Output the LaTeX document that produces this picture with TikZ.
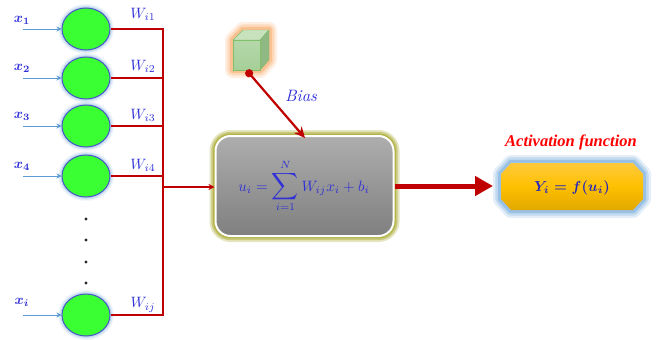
\documentclass[tikz,border=0pt]{standalone}
\usepackage{amsmath,amssymb}
\usepackage{graphicx}
\usepackage{fontspec}
\usepackage{xcolor}
\usetikzlibrary{arrows.meta,shapes.geometric}
\newfontfamily\capfont{Liberation Serif}
\definecolor{wire}{HTML}{C00000}
\definecolor{label}{HTML}{3030D8}
\definecolor{inwire}{HTML}{5B9BD5}
\definecolor{cell}{HTML}{39FF33}
\definecolor{cellrim}{HTML}{4A55C8}
\definecolor{bluehalo}{HTML}{5B9BD5}
\definecolor{olivehalo}{HTML}{A8A830}
\definecolor{orangehalo}{HTML}{F79646}
\definecolor{cubeface}{HTML}{B5D8AA}
\definecolor{cubelow}{HTML}{A6CF98}
\definecolor{cubetop}{HTML}{C8E2BE}
\definecolor{cubeside}{HTML}{8FB883}
\definecolor{cubeedge}{HTML}{7FBF6A}
\definecolor{goldtop}{HTML}{FFC93C}
\definecolor{goldmid}{HTML}{FFC000}
\definecolor{goldlow}{HTML}{E0A800}
\tikzset{
  glow/.style n args={3}{
    preaction={draw=#1,draw opacity=#3*.13,line width=#2*2pt,line join=round},
    preaction={draw=#1,draw opacity=#3*.2,line width=#2*1.4pt,line join=round},
    preaction={draw=#1,draw opacity=#3*.3,line width=#2*0.8pt,line join=round}},
  neuron/.style={ellipse,minimum width=48pt,minimum height=42pt,inner sep=0pt,draw=cellrim,line width=1pt,fill=cell,glow={bluehalo}{4}{.7}},
  mathlabel/.style={text=label,scale=1.5},
  inlabel/.style={text=label,scale=1.4,font=\boldmath},
  inarrow/.style={-{Stealth[length=5pt,width=5pt]},inwire,line width=1pt},
  buswire/.style={wire,line width=2pt}
}
\begin{document}
\begin{tikzpicture}[x=1pt,y=-1pt]
  \useasboundingbox (0,0) rectangle (656,340);
  % input cells
  \foreach \name/\ypos/\ylab/\wlab/\wy/\xtxt in {a/29/20/{i1}/14/1,b/78/68/{i2}/66/2,c/126/116/{i3}/115/3,d/176/166/{i4}/165/4,e/315/302/{ij}/305/i}{
    \node[neuron] (cell\name) at (86,\ypos) {};
    \coordinate (start\name) at (23,\ypos);
    \coordinate (bus\name) at (163,\ypos);
    \draw[inarrow] (start\name) -- (cell\name.west);
    \draw[buswire] (cell\name.east) -- (bus\name);
    \node[inlabel] (x\name) at (22,\ylab) {$x_{\xtxt}$};
    \node[mathlabel] (w\name) at (143,\wy) {$W_{\wlab}$};
  }
  \draw[buswire,line cap=rect] (busa) -- (buse);
  \foreach \ypos in {219,240,262,283}
    \fill[black!85] (86,\ypos) circle (1.7);
  % sum box
  \node[rectangle,rounded corners=15pt,minimum width=178pt,minimum height=100pt,draw=white,
    line width=2pt,top color=black!32,bottom color=black!50,
    glow={olivehalo}{6}{2.3}] (sumbox) at (304.5,186) {};
  \node[text=label,scale=1.5] (sumtxt) at (304,186)
    {$u_i=\mathop{\scalebox{1.25}{$\displaystyle\sum$}}\limits_{i=1}^{N}W_{ij}x_i+b_i$};
  \coordinate (busout) at (163,187);
  \draw[-{Stealth[length=6pt,width=6pt]},buswire] (busout) -- (sumbox.west |- busout);
  % bias cube
  \path[fill=orangehalo!60!white,glow={orangehalo}{8}{1.2}] (233,40) -- (243,30) -- (269,30) -- (269,60) -- (260,70) -- (233,70) -- cycle;
  \fill[cubetop,draw=cubeedge] (233,40) -- (243,30) -- (269,30) -- (260,40) -- cycle;
  \fill[cubeside,draw=cubeedge] (260,40) -- (269,30) -- (269,60) -- (260,70) -- cycle;
  \node[rectangle,minimum width=27pt,minimum height=30pt,inner sep=0pt,draw=cubeedge,
    top color=cubeface,bottom color=cubelow] (cube) at (246.5,55) {};
  \coordinate (biasend) at (305,138);
  \draw[{Circle[length=8pt,width=8pt]}-{Stealth[length=11pt,width=10pt]},wire,line width=2.2pt]
    (cube.south) -- (biasend);
  \node[mathlabel,scale=1.1] (bias) at (301,96) {$\mathit{Bias}$};
  % output
  \path[top color=goldtop,bottom color=goldlow,middle color=goldmid,glow={bluehalo}{8}{1.3}]
    (511,163) -- (633,163) -- (643,174) -- (643,199) -- (633,210) -- (511,210) -- (501,199) -- (501,174) -- cycle;
  \node[rectangle,minimum width=142pt,minimum height=47pt,inner sep=0pt] (outbox) at (572,186.5) {};
  \node[text=label!85!black,scale=1.45,font=\boldmath] (outtxt) at (572,188) {$Y_i=f(u_i)$};
  \node[text=red,font=\capfont\bfseries\itshape\fontsize{16.5}{18}\selectfont] (acttxt) at (571,142) {Activation function};
  \coordinate (outtip) at (493,186);
  \draw[-{Triangle[length=18pt,width=19pt]},wire,line width=5pt] (sumbox.east) -- (outtip);
\end{tikzpicture}
\end{document}
